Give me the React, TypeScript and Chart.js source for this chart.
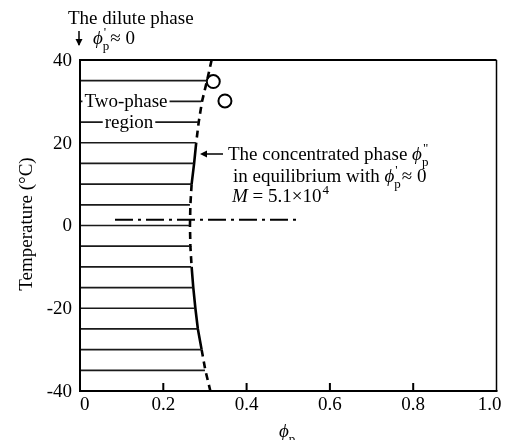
import React, { useEffect, useRef } from 'react';
import { Chart, registerables } from 'chart.js';

Chart.register(...registerables);

// ---- data ----
const tieTemps = [35, 30, 25, 20, 15, 10, 5, 0, -5, -10, -15, -20, -25, -30, -35];
const tieEnds = [0.304, 0.291, 0.284, 0.278, 0.273, 0.267, 0.264, 0.263, 0.264, 0.267, 0.271, 0.276, 0.282, 0.291, 0.300];
const curveTemps = [40, 35, 30, 25, 20, 15, 10, 5, 0, -5, -10, -15, -20, -25, -30, -35, -40];
const curveX = [0.316, 0.305, 0.293, 0.285, 0.279, 0.274, 0.268, 0.265, 0.264, 0.265, 0.268, 0.272, 0.277, 0.283, 0.292, 0.301, 0.313];
const circleX = [0.320, 0.348];
const circleT = [34.8, 30.1];
const dashDotX = [0.084, 0.528];
const dashDotT = [1.4, 1.4];
const xTicks = [0, 0.2, 0.4, 0.6, 0.8, 1.0];
const xTickLabels = ['0', '0.2', '0.4', '0.6', '0.8', '1.0'];
const yTicks = [40, 20, 0, -20, -40];
const yTickLabels = ['40', '20', '0', '-20', '-40'];

const FAM = "'Liberation Serif', 'DejaVu Serif', serif";
const FS = 19;

type Part = { t?: string; italic?: boolean; sub?: string; sup?: string };

function drawRich(ctx: CanvasRenderingContext2D, x: number, y: number, parts: Part[], size: number, align: 'left' | 'center' = 'left') {
  const subSize = Math.round(size * 0.68);
  const widths = parts.map((p) => {
    if (p.t !== undefined) {
      ctx.font = `${p.italic ? 'italic ' : ''}${size}px ${FAM}`;
      return ctx.measureText(p.t).width;
    }
    ctx.font = `${subSize}px ${FAM}`;
    return Math.max(p.sub ? ctx.measureText(p.sub).width : 0, p.sup ? ctx.measureText(p.sup).width : 0) + 1;
  });
  const total = widths.reduce((a, b) => a + b, 0);
  let cx = align === 'center' ? x - total / 2 : x;
  ctx.textBaseline = 'alphabetic';
  ctx.textAlign = 'left';
  ctx.fillStyle = '#000';
  parts.forEach((p, i) => {
    if (p.t !== undefined) {
      ctx.font = `${p.italic ? 'italic ' : ''}${size}px ${FAM}`;
      ctx.fillText(p.t, cx, y);
    } else {
      ctx.font = `${subSize}px ${FAM}`;
      if (p.sub) ctx.fillText(p.sub, cx, y + size * 0.3);
      if (p.sup) ctx.fillText(p.sup, cx + 1, y - size * 0.42);
    }
    cx += widths[i];
  });
}

const decorPlugin = {
  id: 'decor',
  afterDatasetsDraw(chart: any) {
    const ctx: CanvasRenderingContext2D = chart.ctx;
    const xs = chart.scales.x;
    const ys = chart.scales.y;
    const { left, right, top, bottom } = chart.chartArea;
    ctx.save();
    // frame
    ctx.strokeStyle = '#000';
    ctx.lineWidth = 2;
    ctx.beginPath();
    ctx.moveTo(left, top);
    ctx.lineTo(right, top);
    ctx.moveTo(left, top - 1);
    ctx.lineTo(left, bottom + 1);
    ctx.moveTo(left - 1, bottom);
    ctx.lineTo(right + 1, bottom);
    ctx.stroke();
    ctx.lineWidth = 1.5;
    ctx.beginPath();
    ctx.moveTo(right, top);
    ctx.lineTo(right, bottom);
    ctx.stroke();
    // inner x ticks
    ctx.lineWidth = 2;
    ctx.beginPath();
    xTicks.forEach((v) => {
      if (v === 0 || v === 1) return;
      const px = xs.getPixelForValue(v);
      ctx.moveTo(px, bottom);
      ctx.lineTo(px, bottom - 8);
    });
    ctx.stroke();

    // tick labels
    ctx.fillStyle = '#000';
    ctx.font = `${FS}px ${FAM}`;
    ctx.textBaseline = 'top';
    xTicks.forEach((v, i) => {
      let px = xs.getPixelForValue(v);
      const w = ctx.measureText(xTickLabels[i]).width;
      ctx.textAlign = 'center';
      if (i === 0) px = px + w / 2;
      if (i === xTicks.length - 1) px = px - 7;
      ctx.fillText(xTickLabels[i], px, bottom + 5);
    });
    ctx.textBaseline = 'middle';
    ctx.textAlign = 'right';
    yTicks.forEach((v, i) => {
      const py = ys.getPixelForValue(v);
      ctx.fillText(yTickLabels[i], left - 8, py + 1);
    });

    // region label with white background
    const labels: [string, number, number][] = [
      ['Two-phase', 126, 30],
      ['region', 129, 25],
    ];
    ctx.font = `${FS}px ${FAM}`;
    labels.forEach(([txt, cx, t]) => {
      const py = ys.getPixelForValue(t);
      const w = ctx.measureText(txt).width;
      ctx.fillStyle = '#fff';
      ctx.fillRect(cx - w / 2 - 2, py - 10, w + 4, 20);
      ctx.fillStyle = '#000';
      ctx.textAlign = 'center';
      ctx.textBaseline = 'middle';
      ctx.fillText(txt, cx, py + 1);
    });

    // axis titles
    ctx.save();
    ctx.translate(27, 224);
    ctx.rotate(-Math.PI / 2);
    ctx.font = `${FS}px ${FAM}`;
    ctx.textAlign = 'center';
    ctx.textBaseline = 'middle';
    ctx.fillText('Temperature (\u00B0C)', 0, 0);
    ctx.restore();
    drawRich(ctx, 279, 437, [{ t: '\u03D5', italic: true }, { sub: 'p' }], FS, 'left');

    // top annotation
    ctx.fillStyle = '#000';
    ctx.font = `${FS}px ${FAM}`;
    ctx.textAlign = 'left';
    ctx.textBaseline = 'alphabetic';
    ctx.fillText('The dilute phase', 68, 24);
    // down arrow
    ctx.strokeStyle = '#000';
    ctx.lineWidth = 1.5;
    ctx.beginPath();
    ctx.moveTo(79, 31);
    ctx.lineTo(79, 45);
    ctx.stroke();
    ctx.beginPath();
    ctx.moveTo(75.5, 39);
    ctx.lineTo(79, 46);
    ctx.lineTo(82.5, 39);
    ctx.closePath();
    ctx.fill();
    drawRich(ctx, 93, 44, [{ t: '\u03D5', italic: true }, { sub: 'p', sup: "'" }, { t: '\u2248 0' }], FS);

    // concentrated phase annotation
    ctx.lineWidth = 1.5;
    ctx.beginPath();
    ctx.moveTo(202, 154);
    ctx.lineTo(223, 154);
    ctx.stroke();
    ctx.beginPath();
    ctx.moveTo(200, 154);
    ctx.lineTo(207, 150.5);
    ctx.lineTo(207, 157.5);
    ctx.closePath();
    ctx.fill();
    drawRich(ctx, 228, 160, [{ t: 'The concentrated phase ' }, { t: '\u03D5', italic: true }, { sub: 'p', sup: '"' }], FS);
    drawRich(ctx, 233, 182, [{ t: 'in equilibrium with ' }, { t: '\u03D5', italic: true }, { sub: 'p', sup: "'" }, { t: '\u2248 0' }], FS);
    drawRich(ctx, 232, 202, [{ t: 'M', italic: true }, { t: ' = 5.1\u00D710' }, { sup: '4' }], FS);

    ctx.restore();
  },
};

export default function App() {
  const ref = useRef<HTMLCanvasElement | null>(null);
  useEffect(() => {
    if (!ref.current) return;
    const datasets: any[] = [];
    tieTemps.forEach((t, i) => {
      datasets.push({
        data: [
          { x: 0, y: t },
          { x: tieEnds[i], y: t },
        ],
        showLine: true,
        borderColor: '#1a1a1a',
        borderWidth: 1.7,
        pointRadius: 0,
      });
    });
    datasets.push({
      data: curveTemps.map((t, i) => ({ x: curveX[i], y: t })),
      showLine: true,
      borderColor: '#000',
      borderWidth: 2.6,
      pointRadius: 0,
      segment: {
        borderDash: (c: any) => {
          const y0 = c.p0.parsed.y;
          const y1 = c.p1.parsed.y;
          const m = (y0 + y1) / 2;
          if ((m < 21 && m > 11) || (m < -11 && m > -30)) return [];
          return [7, 5];
        },
      },
    });
    datasets.push({
      data: dashDotX.map((x, i) => ({ x, y: dashDotT[i] })),
      showLine: true,
      borderColor: '#000',
      borderWidth: 2,
      borderDash: [18, 5, 3, 5],
      pointRadius: 0,
    });
    datasets.push({
      data: circleX.map((x, i) => ({ x, y: circleT[i] })),
      showLine: false,
      pointRadius: 6.5,
      pointStyle: 'circle',
      borderColor: '#000',
      borderWidth: 2,
      backgroundColor: 'rgba(255,255,255,1)',
    });

    const chart = new Chart(ref.current, {
      type: 'scatter',
      data: { datasets },
      options: {
        animation: false,
        responsive: false,
        layout: { padding: { left: 0, right: 8, top: 60, bottom: 0 } },
        plugins: { legend: { display: false }, tooltip: { enabled: false } },
        scales: {
          x: {
            type: 'linear',
            min: 0,
            max: 1,
            grid: { display: false },
            border: { display: false },
            ticks: { display: false },
            afterFit: (s: any) => {
              s.height = 49;
            },
          },
          y: {
            type: 'linear',
            min: -40,
            max: 40,
            grid: { display: false },
            border: { display: false },
            ticks: { display: false },
            afterFit: (s: any) => {
              s.width = 80;
            },
          },
        },
      },
      plugins: [decorPlugin],
    } as any);
    return () => chart.destroy();
  }, []);
  return (
    <div style={{ position: 'absolute', left: 0, top: 0, width: 505, height: 440, background: '#fff' }}>
      <canvas ref={ref} width={505} height={440} />
    </div>
  );
}
